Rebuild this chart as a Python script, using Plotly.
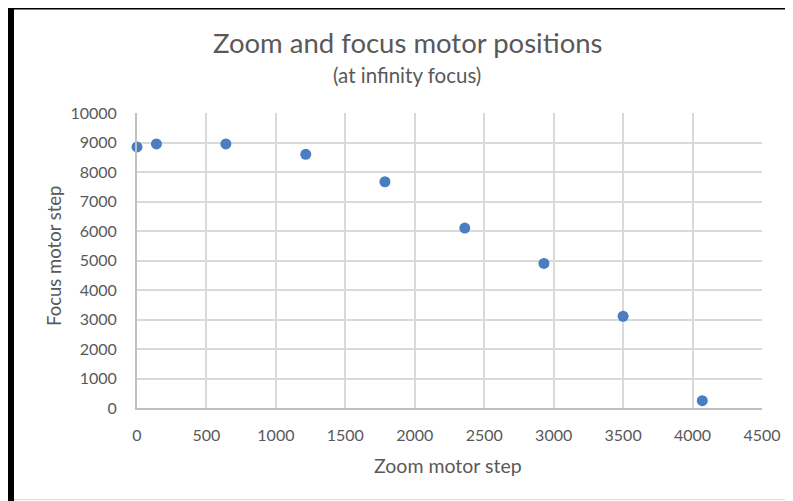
import plotly.graph_objects as go

zoom_steps = [0, 140, 640, 1215, 1785, 2360, 2930, 3500, 4070]
focus_steps = [8850, 8950, 8950, 8600, 7670, 6100, 4900, 3110, 250]

x_ticks = [0, 500, 1000, 1500, 2000, 2500, 3000, 3500, 4000, 4500]
y_ticks = [0, 1000, 2000, 3000, 4000, 5000, 6000, 7000, 8000, 9000, 10000]

title_text = "Zoom and focus motor positions"
subtitle_text = "(at infinity focus)"
x_title = "Zoom motor step"
y_title = "Focus motor step"

FONT = "Lato"
GRAY = "#595959"

OFF = 8  # page body margin
W, H = 793 - OFF, 501 - OFF
L, T = 137 - OFF, 113 - OFF
R = W - (762 - OFF)
B = H - (408 - OFF)
pw = W - L - R
ph = H - T - B


def px(xr):
    return (xr - OFF - L) / pw


def py(yr):
    return (H - B - (yr - OFF)) / ph


fig = go.Figure()
fig.add_trace(go.Scatter(
    x=zoom_steps, y=focus_steps, mode="markers",
    marker=dict(color="#4A7EC1", size=11, line=dict(width=0)),
    showlegend=False, cliponaxis=False,
))

fig.update_layout(
    width=W, height=H,
    margin=dict(l=L, r=R, t=T, b=B),
    paper_bgcolor="white", plot_bgcolor="white",
    font=dict(family=FONT, color=GRAY, size=16),
    xaxis=dict(
        range=[0, 4500], tickvals=x_ticks, ticktext=[str(v) for v in x_ticks],
        showgrid=True, gridcolor="#d9d9d9", gridwidth=1.5,
        showline=True, linecolor="#c0c0c0", linewidth=2, mirror=False,
        zeroline=False, ticks="", tickfont=dict(size=16, color=GRAY),
        ticklabelstandoff=12,
    ),
    yaxis=dict(
        range=[0, 10000], tickvals=y_ticks, ticktext=[str(v) for v in y_ticks],
        showgrid=True, gridcolor="#d9d9d9", gridwidth=1.5,
        showline=True, linecolor="#c0c0c0", linewidth=2,
        zeroline=False, ticks="", tickfont=dict(size=16, color=GRAY),
        ticklabelstandoff=15,
    ),
    annotations=[
        dict(text=title_text, x=px(408), y=py(43), xref="paper", yref="paper",
             showarrow=False, xanchor="center", yanchor="middle",
             font=dict(size=27.5, color=GRAY, family=FONT)),
        dict(text=subtitle_text, x=px(406.5), y=py(75), xref="paper", yref="paper",
             showarrow=False, xanchor="center", yanchor="middle",
             font=dict(size=20.5, color=GRAY, family=FONT)),
        dict(text=x_title, x=px(448), y=py(465), xref="paper", yref="paper",
             showarrow=False, xanchor="center", yanchor="middle",
             font=dict(size=19.5, color=GRAY, family=FONT)),
        dict(text=y_title, x=px(53.5), y=py(256.5), xref="paper", yref="paper",
             showarrow=False, xanchor="center", yanchor="middle", textangle=-90,
             font=dict(size=18.5, color=GRAY, family=FONT)),
    ],
    shapes=[
        dict(type="rect", xref="paper", yref="paper",
             x0=px(8), x1=px(14), y0=py(510), y1=py(0),
             fillcolor="black", line=dict(width=0), layer="above"),
        dict(type="rect", xref="paper", yref="paper",
             x0=px(8), x1=px(800), y0=py(9.5), y1=py(0),
             fillcolor="black", line=dict(width=0), layer="above"),
        dict(type="line", xref="paper", yref="paper",
             x0=px(14), x1=px(800), y0=py(499.5), y1=py(499.5),
             line=dict(color="#d9d9d9", width=1), layer="above"),
    ],
)

fig.write_html("out.html")
